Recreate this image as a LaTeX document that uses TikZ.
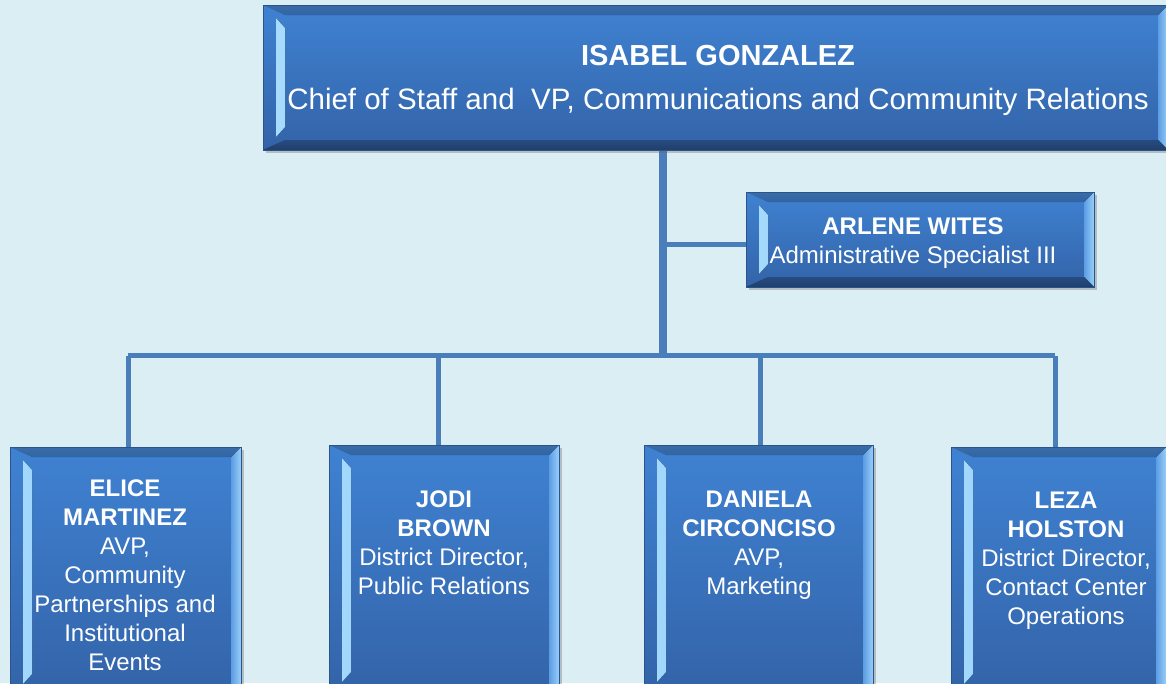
\documentclass[tikz,border=0pt]{standalone}
\usepackage{fontspec}
\setmainfont{Liberation Sans}
\usetikzlibrary{calc,shadows}
\definecolor{bg}{HTML}{DBEEF4}
\definecolor{conncol}{HTML}{4A7EBB}
\definecolor{boxtop}{HTML}{3F82D2}
\definecolor{boxbot}{HTML}{3363A8}
\definecolor{boxedge}{HTML}{2B548C}
\definecolor{hl}{HTML}{A8DCFF}
\definecolor{hlmid}{HTML}{5C9CE4}
\newcommand{\bevelpic}{%
  \fill[left color=hl, right color=hlmid]
    ($(path picture bounding box.north west)+(13pt,-13pt)$) -- ++(9pt,-10pt)
    -- ($(path picture bounding box.south west)+(22pt,23pt)$) -- ++(-9pt,-10pt) -- cycle;
  \fill[left color=hlmid, right color=hl!85!boxtop]
    (path picture bounding box.north east) -- ++(-10pt,-10pt)
    -- ($(path picture bounding box.south east)+(-10pt,10pt)$) -- ++(10pt,-10pt) -- cycle;
  \fill[top color=boxtop!85!white, bottom color=boxtop, opacity=0.3]
    (path picture bounding box.north west) -- (path picture bounding box.north east)
    -- ++(-10pt,-10pt) -- ($(path picture bounding box.north west)+(22pt,-10pt)$) -- cycle;
  \fill[top color=boxbot, bottom color=boxbot!70!black, opacity=0.4]
    (path picture bounding box.south west) -- (path picture bounding box.south east)
    -- ++(-10pt,10pt) -- ($(path picture bounding box.south west)+(22pt,10pt)$) -- cycle;
}
\tikzset{
  x=1pt, y=-1pt,
  orgbox/.style={rectangle, inner sep=0pt, draw=boxedge, line width=0.8pt,
    top color=boxtop, bottom color=boxbot,
    drop shadow={shadow xshift=2.5pt, shadow yshift=-2.5pt, opacity=0.35, fill=black!60},
    path picture={\bevelpic}},
  conn/.style={draw=conncol, line width=5pt},
  trunk/.style={draw=conncol, line width=8pt},
  boxtext/.style={text=white, align=center, inner sep=0pt, font=\fontsize{24}{29}\selectfont},
}
\begin{document}
\begin{tikzpicture}
\useasboundingbox (0,0) rectangle (1166,683);
\clip (0,0) rectangle (1166,683);
\fill[bg] (0,0) rectangle (1166,683);

% coordinates for connectors
\coordinate (busC) at (663,355.5);
\coordinate (busEnd) at (663,358);
\coordinate (d1) at (128,355.5);
\coordinate (d2) at (438,355.5);
\coordinate (d3) at (760,355.5);
\coordinate (d4) at (1055,355.5);
\coordinate (ab) at (663,244.5);

% connectors (behind boxes)
\coordinate (topanchor) at (663,140);
\coordinate (arlanchor) at (760,244.5);
\draw[conn] (ab) -- (arlanchor);
\draw[conn] (d1) -- (d4);
\draw[trunk] (topanchor) -- (busEnd);
\draw[conn] (d1) -- ++(0,100);
\draw[conn] (d2) -- ++(0,100);
\draw[conn] (d3) -- ++(0,100);
\draw[conn] (d4) -- ++(0,100);

% boxes
\node[orgbox, minimum width=905pt, minimum height=145pt] (top) at (715.5,77.5) {};
\node[orgbox, minimum width=348pt, minimum height=95pt] (arlene) at (920,239.5) {};
\node[orgbox, minimum width=231pt, minimum height=250pt] (elice) at (125.5,572) {};
\node[orgbox, minimum width=230pt, minimum height=250pt] (jodi) at (444,570) {};
\node[orgbox, minimum width=229pt, minimum height=250pt] (daniela) at (758.5,570) {};
\node[orgbox, minimum width=215pt, minimum height=250pt] (leza) at (1058.5,572) {};

% texts
\node[boxtext, font=\fontsize{29}{44}\selectfont\bfseries] (topname) at (718,56) {ISABEL GONZALEZ};
\node[boxtext, font=\fontsize{29.5}{44}\selectfont] (toptitle) at (718,101.5) {Chief of Staff and\ \ VP, Communications and Community Relations};
\node[boxtext] (arlT) at (913,243.5) {\textbf{ARLENE WITES}\\Administrative Specialist III};
\node[boxtext] (eliceT) at (125,575) {\textbf{ELICE}\\\textbf{MARTINEZ}\\AVP,\\Community\\Partnerships and\\Institutional\\Events};
\node[boxtext] (jodiT) at (444,542.5) {\textbf{JODI}\\\textbf{BROWN}\\District Director,\\Public Relations};
\node[boxtext] (danT) at (759,545.5) {\textbf{DANIELA}\\\textbf{CIRCONCISO}\\AVP,\\Marketing};
\node[boxtext] (lezaT) at (1066,561) {\textbf{LEZA}\\\textbf{HOLSTON}\\District Director,\\Contact Center\\Operations};
\end{tikzpicture}
\end{document}
